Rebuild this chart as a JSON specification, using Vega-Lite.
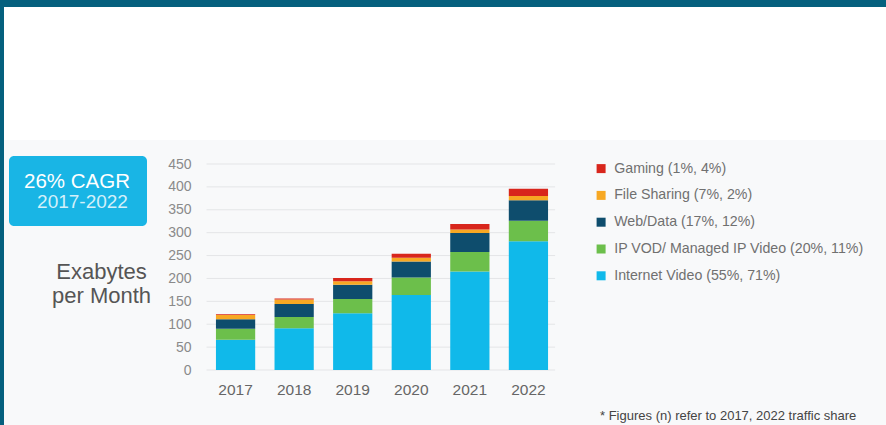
{
  "$schema": "https://vega.github.io/schema/vega-lite/v6.json",
  "background": "#05607e",
  "padding": {"left": 4, "top": 7, "right": 0, "bottom": 0},
  "config": {
    "view": {"stroke": null},
    "font": "Liberation Sans"
  },
  "spacing": 0,
  "datasets": {
    "traffic": [
      {"year": "2017", "category": "Internet Video (55%, 71%)", "rank": 1, "exabytes": 66},
      {"year": "2017", "category": "IP VOD/ Managed IP Video (20%, 11%)", "rank": 2, "exabytes": 24},
      {"year": "2017", "category": "Web/Data (17%, 12%)", "rank": 3, "exabytes": 21},
      {"year": "2017", "category": "File Sharing (7%, 2%)", "rank": 4, "exabytes": 9},
      {"year": "2017", "category": "Gaming (1%, 4%)", "rank": 5, "exabytes": 2},
      {"year": "2018", "category": "Internet Video (55%, 71%)", "rank": 1, "exabytes": 91},
      {"year": "2018", "category": "IP VOD/ Managed IP Video (20%, 11%)", "rank": 2, "exabytes": 25},
      {"year": "2018", "category": "Web/Data (17%, 12%)", "rank": 3, "exabytes": 28},
      {"year": "2018", "category": "File Sharing (7%, 2%)", "rank": 4, "exabytes": 10},
      {"year": "2018", "category": "Gaming (1%, 4%)", "rank": 5, "exabytes": 2},
      {"year": "2019", "category": "Internet Video (55%, 71%)", "rank": 1, "exabytes": 124},
      {"year": "2019", "category": "IP VOD/ Managed IP Video (20%, 11%)", "rank": 2, "exabytes": 31},
      {"year": "2019", "category": "Web/Data (17%, 12%)", "rank": 3, "exabytes": 31},
      {"year": "2019", "category": "File Sharing (7%, 2%)", "rank": 4, "exabytes": 8},
      {"year": "2019", "category": "Gaming (1%, 4%)", "rank": 5, "exabytes": 7},
      {"year": "2020", "category": "Internet Video (55%, 71%)", "rank": 1, "exabytes": 164},
      {"year": "2020", "category": "IP VOD/ Managed IP Video (20%, 11%)", "rank": 2, "exabytes": 38},
      {"year": "2020", "category": "Web/Data (17%, 12%)", "rank": 3, "exabytes": 35},
      {"year": "2020", "category": "File Sharing (7%, 2%)", "rank": 4, "exabytes": 8},
      {"year": "2020", "category": "Gaming (1%, 4%)", "rank": 5, "exabytes": 9},
      {"year": "2021", "category": "Internet Video (55%, 71%)", "rank": 1, "exabytes": 215},
      {"year": "2021", "category": "IP VOD/ Managed IP Video (20%, 11%)", "rank": 2, "exabytes": 43},
      {"year": "2021", "category": "Web/Data (17%, 12%)", "rank": 3, "exabytes": 41},
      {"year": "2021", "category": "File Sharing (7%, 2%)", "rank": 4, "exabytes": 8},
      {"year": "2021", "category": "Gaming (1%, 4%)", "rank": 5, "exabytes": 12},
      {"year": "2022", "category": "Internet Video (55%, 71%)", "rank": 1, "exabytes": 281},
      {"year": "2022", "category": "IP VOD/ Managed IP Video (20%, 11%)", "rank": 2, "exabytes": 45},
      {"year": "2022", "category": "Web/Data (17%, 12%)", "rank": 3, "exabytes": 45},
      {"year": "2022", "category": "File Sharing (7%, 2%)", "rank": 4, "exabytes": 9},
      {"year": "2022", "category": "Gaming (1%, 4%)", "rank": 5, "exabytes": 16}
    ],
    "gridlines": [
      {"tick": 0}, {"tick": 50}, {"tick": 100}, {"tick": 150}, {"tick": 200},
      {"tick": 250}, {"tick": 300}, {"tick": 350}, {"tick": 400}, {"tick": 450}
    ]
  },
  "vconcat": [
    {
      "width": 882,
      "height": 133,
      "view": {"fill": "#ffffff", "stroke": null},
      "data": {"values": [{}]},
      "mark": {"type": "text"},
      "encoding": {"text": {"value": ""}}
    },
    {
      "width": 882,
      "height": 285,
      "view": {"fill": "#f8f9fa", "stroke": null},
      "layer": [
        {
          "data": {"name": "gridlines"},
          "mark": {"type": "rule", "color": "#e4e5e7", "strokeWidth": 1},
          "encoding": {
            "y": {
              "field": "tick", "type": "quantitative",
              "scale": {"domain": [0, 450], "range": [230, 24], "nice": false},
              "axis": {
                "orient": "left", "offset": -202, "title": null, "domain": false, "ticks": false,
                "grid": false, "values": [0, 50, 100, 150, 200, 250, 300, 350, 400, 450],
                "labelFontSize": 14, "labelColor": "#8a8a8a", "labelPadding": 15,
                "labelFont": "Liberation Sans", "labelOverlap": false
              }
            },
            "x": {
              "datum": "2017", "type": "ordinal", "bandPosition": -0.24,
              "axis": {
                "orient": "bottom", "offset": -55, "title": null, "domain": false, "ticks": false,
                "grid": false, "labelAngle": 0, "labelFontSize": 15.5, "labelColor": "#666666",
                "labelPadding": 12.5, "labelFont": "Liberation Sans", "bandPosition": 0.5,
                "labelAlign": "center"
              }
            },
            "x2": {"datum": "2022", "bandPosition": 1.18}
          }
        },
        {
          "data": {"name": "traffic"},
          "mark": {"type": "bar"},
          "encoding": {
            "x": {
              "field": "year", "type": "ordinal",
              "scale": {"range": [202, 554], "paddingInner": 0.33, "paddingOuter": 0.17},
              "axis": {
                "orient": "bottom", "offset": -55, "title": null, "domain": false, "ticks": false,
                "grid": false, "labelAngle": 0, "labelFontSize": 15.5, "labelColor": "#666666",
                "labelPadding": 12.5, "labelFont": "Liberation Sans", "bandPosition": 0.5,
                "labelAlign": "center"
              }
            },
            "y": {
              "field": "exabytes", "type": "quantitative", "stack": "zero",
              "scale": {"domain": [0, 450], "range": [230, 24], "nice": false},
              "axis": {
                "orient": "left", "offset": -202, "title": null, "domain": false, "ticks": false,
                "grid": false, "values": [0, 50, 100, 150, 200, 250, 300, 350, 400, 450],
                "labelFontSize": 14, "labelColor": "#8a8a8a", "labelPadding": 15,
                "labelFont": "Liberation Sans", "labelOverlap": false
              }
            },
            "color": {
              "field": "category", "type": "nominal",
              "scale": {
                "domain": ["Gaming (1%, 4%)", "File Sharing (7%, 2%)", "Web/Data (17%, 12%)", "IP VOD/ Managed IP Video (20%, 11%)", "Internet Video (55%, 71%)"],
                "range": ["#d8261c", "#f7a823", "#0e4d6d", "#6cbf4b", "#10b9ea"]
              },
              "legend": {
                "orient": "none", "legendX": 590, "legendY": 154.5, "title": null,
                "symbolType": "square", "symbolSize": 81, "symbolStrokeWidth": 0,
                "labelFontSize": 14.2, "labelColor": "#707070", "labelOffset": 6,
                "rowPadding": 11.8, "labelFont": "Liberation Sans", "labelLimit": 400
              }
            },
            "order": {"field": "rank", "type": "quantitative", "sort": "ascending"}
          }
        },
        {
          "data": {"values": [{}]},
          "mark": {"type": "rect", "fill": "#19b5e5", "cornerRadius": 5},
          "encoding": {
            "x": {"value": 5}, "x2": {"value": 143},
            "y": {"value": 16}, "y2": {"value": 86}
          }
        },
        {
          "data": {"values": [{}]},
          "mark": {"type": "text", "align": "center", "baseline": "alphabetic", "fontSize": 20.5, "color": "#ffffff"},
          "encoding": {"x": {"value": 73}, "y": {"value": 48}, "text": {"value": "26% CAGR"}}
        },
        {
          "data": {"values": [{}]},
          "mark": {"type": "text", "align": "center", "baseline": "alphabetic", "fontSize": 19, "color": "#d3f0fa"},
          "encoding": {"x": {"value": 78.5}, "y": {"value": 68}, "text": {"value": "2017-2022"}}
        },
        {
          "data": {"values": [{}]},
          "mark": {"type": "text", "align": "center", "baseline": "alphabetic", "fontSize": 22, "color": "#555555", "lineHeight": 24},
          "encoding": {"x": {"value": 97.5}, "y": {"value": 139.3}, "text": {"value": ["Exabytes", "per Month"]}}
        },
        {
          "data": {"values": [{}]},
          "mark": {"type": "text", "align": "left", "baseline": "alphabetic", "fontSize": 13, "color": "#444444"},
          "encoding": {"x": {"value": 596}, "y": {"value": 280}, "text": {"value": "* Figures (n) refer to 2017, 2022 traffic share"}}
        }
      ]
    }
  ]
}
